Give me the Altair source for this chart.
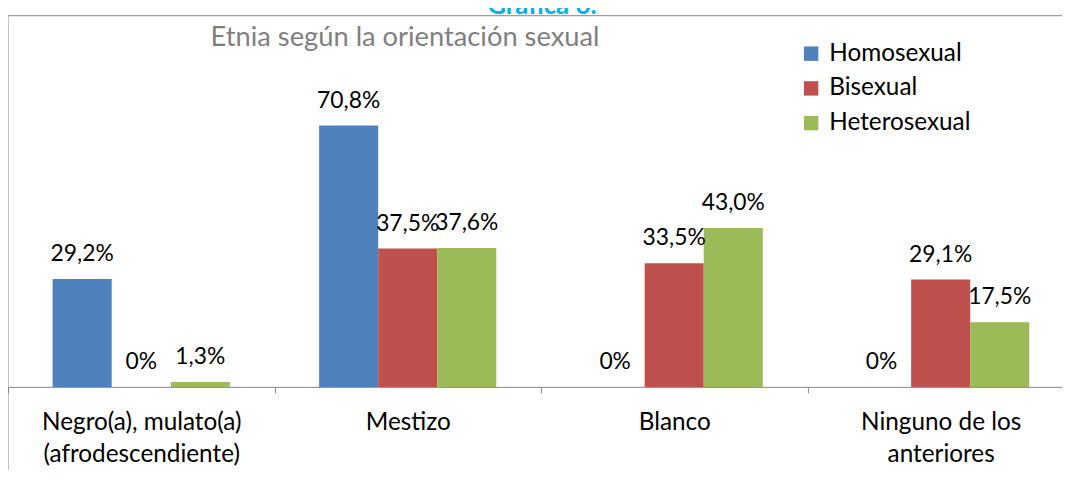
import altair as alt
import pandas as pd

categories = ["Negro(a), mulato(a)\n(afrodescendiente)", "Mestizo", "Blanco", "Ninguno de los\nanteriores"]
series = ["Homosexual", "Bisexual", "Heterosexual"]
homosexual = [29.2, 70.8, 0.0, 0.0]
bisexual = [0.0, 37.5, 33.5, 29.1]
heterosexual = [1.3, 37.6, 43.0, 17.5]
colors = ["#4f81bd", "#c0504d", "#9bbb59"]
title_text = "Etnia según la orientación sexual"
header_text = "Gráfica 6."

rows = []
for s, vals in zip(series, [homosexual, bisexual, heterosexual]):
    for c, v in zip(categories, vals):
        lab = "0%" if v == 0 else f"{v:.1f}".replace(".", ",") + "%"
        rows.append({"etnia": c, "orientacion": s, "valor": v, "etiqueta": lab})
df = pd.DataFrame(rows)

FONT = "Lato"
GRAY = "#868686"
W = 1074

x = alt.X(
    "etnia:N", sort=categories,
    scale=alt.Scale(paddingInner=0, paddingOuter=0),
    axis=alt.Axis(title=None, labelAngle=0, labelExpr="split(datum.label, '\\n')",
                  labelFont=FONT, labelFontSize=24.5, labelColor="#000000",
                  labelLineHeight=32, labelBaseline="alphabetic", labelPadding=37,
                  labelOverlap=False, labelLimit=500,
                  tickBand="extent", tickSize=6, tickColor=GRAY, domainColor=GRAY,
                  grid=False),
)
xo = alt.XOffset("orientacion:N", sort=series,
                 scale=alt.Scale(paddingOuter=0.756, paddingInner=0))
y = alt.Y("valor:Q", scale=alt.Scale(domain=[0, 100]), axis=None)
color = alt.Color(
    "orientacion:N", sort=series,
    scale=alt.Scale(domain=series, range=colors),
    legend=alt.Legend(title=None, orient="none", legendX=797, legendY=24,
                      symbolType="square", symbolSize=210, symbolStrokeWidth=0,
                      labelFont=FONT, labelFontSize=24.5, labelColor="#000000",
                      rowPadding=10, labelOffset=6, padding=0),
)

base = alt.Chart(df)
bars = base.mark_bar().encode(x=x, xOffset=xo, y=y, color=color)
labels = base.mark_text(baseline="alphabetic", dy=-18, font=FONT, fontSize=23,
                        color="#000000").encode(x=x, xOffset=xo, y=y, text="etiqueta:N")

one = pd.DataFrame({"t": [title_text], "h": [header_text]})
left_rule = alt.Chart(one).mark_rule(color=GRAY, strokeWidth=1).encode(
    x=alt.value(0), y=alt.value(-2), y2=alt.value(470))
top_rule = alt.Chart(one).mark_rule(color=GRAY, strokeWidth=1).encode(
    x=alt.value(0), x2=alt.value(W), y=alt.value(-2))
title = alt.Chart(one).mark_text(font=FONT, fontSize=27.5, color="#7f7f7f",
                                 align="center", baseline="alphabetic").encode(
    x=alt.value(400), y=alt.value(29), text="t:N")
header = alt.Chart(one).mark_text(font=FONT, fontSize=26, fontWeight="bold", color="#00b0f0",
                                  align="center", baseline="alphabetic").encode(
    x=alt.value(538), y=alt.value(-3.5), text="h:N")

chart = alt.layer(bars, labels, left_rule, top_rule, title, header).properties(
    width=W, height=372,
    padding={"left": 0, "top": 8, "right": -12, "bottom": 82},
    autosize=alt.AutoSizeParams(type="none"),
).configure_view(stroke=None)

chart.save("out.html", embed_options={"renderer": "svg", "actions": False})
